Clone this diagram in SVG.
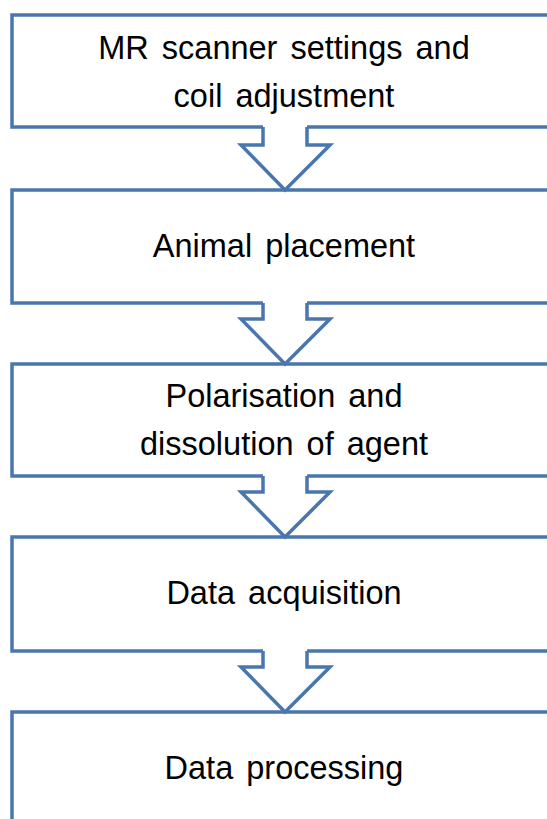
<svg xmlns="http://www.w3.org/2000/svg" width="547" height="819" viewBox="0 0 547 819">
<style>
.box{fill:#ffffff;stroke:#4a76ae;stroke-width:3.5}
.afill{fill:#ffffff;stroke:none}
.aline{fill:none;stroke:#4a76ae;stroke-width:3.5;stroke-linejoin:miter}
.lbl{font-family:"Liberation Sans",Arial,sans-serif;font-size:32.5px;word-spacing:4px;fill:#000000;text-anchor:middle}
</style>
<rect width="547" height="819" fill="#ffffff"/>
<g id="node1"><rect class="box" x="12" y="15" width="546" height="112"/>
<text class="lbl" x="284" y="59">MR scanner settings and</text>
<text class="lbl" x="284" y="107">coil adjustment</text></g>
<g id="node2"><rect class="box" x="12" y="190" width="546" height="113"/>
<text class="lbl" x="284" y="257">Animal placement</text></g>
<g id="node3"><rect class="box" x="12" y="364" width="546" height="112"/>
<text class="lbl" x="284" y="407">Polarisation and</text>
<text class="lbl" x="284" y="455">dissolution of agent</text></g>
<g id="node4"><rect class="box" x="12" y="537" width="546" height="114"/>
<text class="lbl" x="284" y="604">Data acquisition</text></g>
<g id="node5"><rect class="box" x="12" y="712" width="546" height="130"/>
<text class="lbl" x="284" y="779">Data processing</text></g>
<g id="connectors">
<polygon class="afill" points="263,124 307,124 307,145 330,145 285,190 241,145 263,145"/>
<polyline class="aline" points="263,127 263,145 241,145 285,190 330,145 307,145 307,127"/>
<polygon class="afill" points="263,300 307,300 307,319 330,319 285,364 241,319 263,319"/>
<polyline class="aline" points="263,303 263,319 241,319 285,364 330,319 307,319 307,303"/>
<polygon class="afill" points="263,473 307,473 307,492 330,492 285,537 241,492 263,492"/>
<polyline class="aline" points="263,476 263,492 241,492 285,537 330,492 307,492 307,476"/>
<polygon class="afill" points="263,648 307,648 307,667 330,667 285,712 241,667 263,667"/>
<polyline class="aline" points="263,651 263,667 241,667 285,712 330,667 307,667 307,651"/>
</g>
</svg>
